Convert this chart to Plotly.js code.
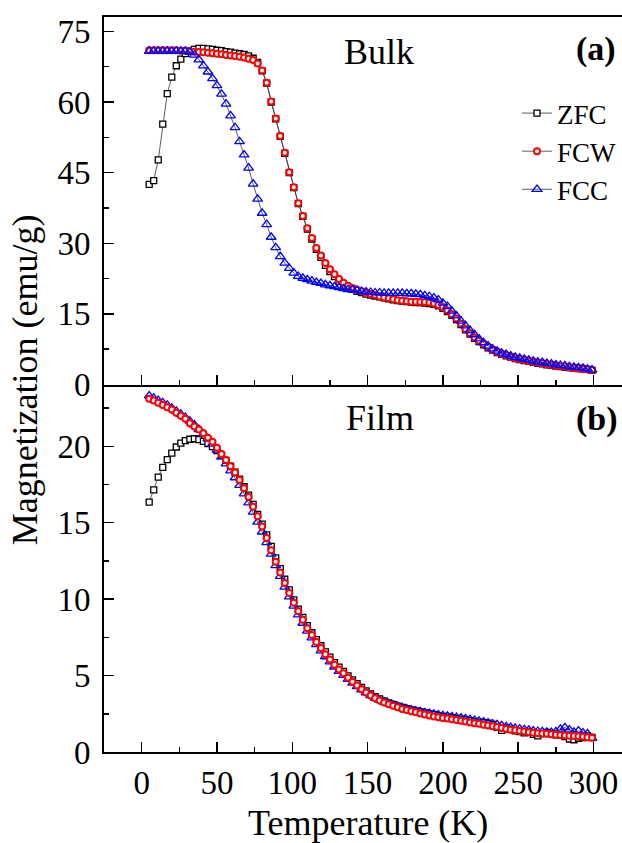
<!DOCTYPE html>
<html>
<head>
<meta charset="utf-8">
<script src="https://cdn.plot.ly/plotly-3.0.1.min.js"></script>
<style>
  html, body { margin: 0; padding: 0; background: #fff; }
  #chart { width: 622px; height: 843px; }
</style>
</head>
<body>
<div id="chart"></div>
<script>
// Temperature grid (K)
const temperature = [5,8,11,14,17,20,23,26,29,32, 35,38,41,44,47,50,53,56,59,62, 65,68,71,74,77,80,83,86,89,92,
  95,98,101,104,107,110,113,116,119,122, 125,128,131,134,137,140,143,146,149,152, 155,158,161,164,167,170,173,176,179,182,
  185,188,191,194,197,200,203,206,209,212, 215,218,221,224,227,230,233,236,239,242, 245,248,251,254,257,260,263,266,269,272,
  275,278,281,284,287,290,293,296,299];

// (a) Bulk, magnetization (emu/g)
const zfcBulk = [42.5,43.3,47.7,55.3,61.8,65.3,67.7,69.1,70.3,70.8,
  71.2,71.4,71.4,71.3,71.2,71.0,70.9,70.7,70.6,70.4,
  70.25,70.1,69.8,69.3,68.4,66.6,64.0,60.0,56.4,52.7,
  49.1,45.0,41.8,38.4,35.7,33.0,30.9,28.7,27.0,25.3,
  24.0,22.9,21.9,21.1,20.6,20.2,19.8,19.5,19.2,19.0,
  18.8,18.6,18.4,18.2,18.0,17.8,17.7,17.6,17.5,17.4,
  17.4,17.3,17.2,17.0,16.7,16.2,15.5,14.7,13.8,12.7,
  11.6,10.7,9.8,9.1,8.4,7.8,7.3,6.8,6.4,6.1,
  5.8,5.5,5.3,5.1,4.9,4.7,4.5,4.4,4.2,4.1,
  3.9,3.8,3.7,3.6,3.5,3.4,3.3,3.2,3.0];
const fcwBulk = [71.0,71.0,71.0,71.0,71.0,71.0,71.0,70.9,70.9,70.8,
  70.7,70.6,70.55,70.45,70.35,70.25,70.15,70.0,69.9,69.75,
  69.6,69.45,69.2,68.9,68.2,66.7,64.1,60.1,56.5,52.8,
  49.2,45.1,41.9,38.5,35.8,33.2,31.1,29.0,27.4,25.8,
  24.5,23.4,22.4,21.6,21.0,20.5,20.1,19.8,19.5,19.2,
  19.0,18.7,18.5,18.3,18.1,17.9,17.8,17.7,17.6,17.6,
  17.5,17.5,17.4,17.2,16.9,16.4,15.7,14.9,14.0,12.9,
  11.8,10.9,10.0,9.3,8.6,8.0,7.4,6.9,6.5,6.2,
  5.9,5.6,5.4,5.2,5.0,4.8,4.6,4.5,4.3,4.2,
  4.0,3.9,3.8,3.6,3.5,3.4,3.3,3.2,3.1];
const fccBulk = [70.8,70.8,70.8,70.8,70.8,70.8,70.8,70.8,70.8,70.6,
  70.0,69.0,67.7,66.4,65.0,63.5,61.7,59.6,57.1,54.6,
  51.6,48.8,46.0,42.6,39.4,36.4,34.0,31.3,29.1,27.2,
  25.8,24.7,23.7,23.0,22.6,22.3,22.0,21.7,21.5,21.2,
  21.0,20.8,20.6,20.4,20.2,20.1,20.0,19.8,19.7,19.6,
  19.5,19.5,19.4,19.4,19.4,19.4,19.4,19.3,19.3,19.2,
  19.1,18.9,18.7,18.4,18.0,17.3,16.6,15.6,14.6,13.5,
  12.5,11.5,10.6,9.7,8.9,8.2,7.6,7.1,6.7,6.4,
  6.1,5.8,5.6,5.4,5.2,5.0,4.8,4.7,4.5,4.4,
  4.2,4.1,4.0,3.8,3.7,3.6,3.5,3.3,3.1];

// (b) Film, magnetization (emu/g)
const zfcFilm = [16.35,17.15,17.98,18.62,19.12,19.55,19.95,20.2,20.37,20.46,
  20.49,20.44,20.32,20.18,19.98,19.72,19.42,19.08,18.7,18.3,
  17.85,17.35,16.8,16.2,15.55,14.9,14.2,13.45,12.7,12.0,
  11.3,10.6,9.95,9.35,8.8,8.27,7.8,7.35,6.95,6.55,
  6.2,5.85,5.55,5.27,4.98,4.72,4.47,4.22,4.0,3.8,
  3.62,3.47,3.34,3.22,3.11,3.0,2.91,2.83,2.76,2.69,
  2.62,2.56,2.5,2.44,2.38,2.33,2.28,2.24,2.2,2.15,
  2.1,2.05,2.0,1.96,1.92,1.88,1.8,1.62,1.42,1.58,
  1.5,1.38,1.33,1.25,1.3,1.15,1.05,1.2,1.28,1.2,
  1.12,1.1,1.0,0.85,0.8,0.9,0.95,1.05,0.95];
const fcwFilm = [23.1,23.0,22.85,22.7,22.55,22.4,22.2,22.0,21.8,21.5,
  21.3,21.1,20.85,20.55,20.3,19.9,19.5,19.1,18.7,18.28,
  17.8,17.25,16.68,16.05,15.42,14.75,14.0,13.2,12.45,11.75,
  11.05,10.4,9.77,9.2,8.65,8.1,7.65,7.2,6.8,6.4,
  6.05,5.7,5.4,5.15,4.85,4.6,4.35,4.1,3.9,3.7,
  3.52,3.37,3.24,3.12,3.02,2.92,2.82,2.74,2.67,2.6,
  2.52,2.45,2.39,2.33,2.28,2.23,2.19,2.14,2.09,2.04,
  1.99,1.93,1.88,1.84,1.79,1.74,1.69,1.63,1.57,1.51,
  1.46,1.42,1.38,1.34,1.29,1.26,1.23,1.21,1.19,1.16,
  1.13,1.11,1.08,1.06,1.05,1.03,1.0,0.97,0.94];
const fccFilm = [23.3,23.15,23.0,22.85,22.7,22.5,22.3,22.1,21.9,21.65,
  21.4,21.1,20.8,20.5,20.15,19.75,19.3,18.85,18.4,17.95,
  17.45,16.9,16.3,15.7,15.05,14.4,13.7,12.95,12.2,11.5,
  10.8,10.15,9.55,8.98,8.43,7.92,7.47,7.03,6.63,6.24,
  5.9,5.57,5.28,5.02,4.76,4.52,4.29,4.07,3.87,3.69,
  3.53,3.4,3.28,3.17,3.07,2.98,2.9,2.83,2.76,2.7,
  2.64,2.58,2.53,2.48,2.43,2.39,2.35,2.31,2.27,2.23,
  2.18,2.13,2.08,2.03,1.97,1.91,1.85,1.79,1.73,1.67,
  1.61,1.56,1.51,1.47,1.43,1.39,1.36,1.33,1.31,1.29,
  1.33,1.5,1.6,1.45,1.3,1.38,1.25,1.2,0.9];

const seriesNames = ['ZFC', 'FCW', 'FCC'];
const xTickVals = [0, 50, 100, 150, 200, 250, 300];

const FONT = '"Liberation Serif", "Times New Roman", Times, serif';
const lineStyle = {color: '#333', width: 0.8};
const mk = {
  ZFC: {symbol: 'square', size: 6, color: 'white', line: {color: 'black', width: 1.3}},
  FCW: {symbol: 'circle', size: 6, color: 'white', line: {color: 'red', width: 2}},
  FCC: {symbol: 'triangle-up-open', size: 8.5, color: 'blue', line: {color: 'blue', width: 1.3}}
};

function tr(name, y, xa, ya, show) {
  return {x: temperature, y: y, name: name, type: 'scatter', mode: 'lines+markers',
    line: lineStyle, marker: mk[name], xaxis: xa, yaxis: ya, showlegend: show, cliponaxis: true};
}

const data = [
  tr('ZFC', zfcBulk, 'x2', 'y2', true),
  tr('FCW', fcwBulk, 'x2', 'y2', true),
  tr('FCC', fccBulk, 'x2', 'y2', true),
  tr('ZFC', zfcFilm, 'x', 'y', false),
  tr('FCC', fccFilm, 'x', 'y', false),
  tr('FCW', fcwFilm, 'x', 'y', false)
];

const axBase = {
  showline: true, linecolor: 'black', linewidth: 2, showgrid: false, zeroline: false,
  ticks: 'inside', ticklen: 10, tickwidth: 1.5, tickcolor: 'black',
  tickfont: {family: FONT, size: 33, color: 'black'}
};

const layout = {
  width: 622, height: 843,
  margin: {l: 104, r: 0, t: 17, b: 91, pad: 0},
  paper_bgcolor: 'white', plot_bgcolor: 'white',
  font: {family: FONT, color: 'black'},
  xaxis: Object.assign({}, axBase, {anchor: 'y', range: [-25, 318.9], tickvals: xTickVals,
    minor: {dtick: 25, tick0: 0, ticks: 'inside', ticklen: 5, tickwidth: 1.5, tickcolor: 'black'}}),
  xaxis2: Object.assign({}, axBase, {anchor: 'y2', matches: 'x', range: [-25, 318.9], tickvals: xTickVals,
    showticklabels: false, mirror: true,
    minor: {dtick: 25, tick0: 0, ticks: 'inside', ticklen: 5, tickwidth: 1.5, tickcolor: 'black'}}),
  yaxis: Object.assign({}, axBase, {domain: [0, 0.5], range: [0, 24.04], dtick: 5, tick0: 0, ticklabelstandoff: 5,
    minor: {dtick: 2.5, tick0: 0, ticks: 'inside', ticklen: 5, tickwidth: 1.5, tickcolor: 'black'}}),
  yaxis2: Object.assign({}, axBase, {domain: [0.5, 1], range: [0, 78.06], dtick: 15, tick0: 0, ticklabelstandoff: 5,
    minor: {dtick: 7.5, tick0: 0, ticks: 'inside', ticklen: 5, tickwidth: 1.5, tickcolor: 'black'}}),
  legend: {x: 0.798, y: 0.902, xanchor: 'left', yanchor: 'top', bgcolor: 'rgba(0,0,0,0)',
    font: {family: FONT, size: 27, color: 'black'}, tracegroupgap: 0, itemsizing: 'trace'},
  annotations: [
    {text: 'Bulk', xref: 'paper', yref: 'paper', x: 0.531, y: 0.953, showarrow: false,
      font: {family: FONT, size: 36}, xanchor: 'center', yanchor: 'middle'},
    {text: '<b>(a)</b>', xref: 'paper', yref: 'paper', x: 0.95, y: 0.957, showarrow: false,
      font: {family: FONT, size: 34}, xanchor: 'center', yanchor: 'middle'},
    {text: 'Film', xref: 'paper', yref: 'paper', x: 0.533, y: 0.454, showarrow: false,
      font: {family: FONT, size: 36}, xanchor: 'center', yanchor: 'middle'},
    {text: '<b>(b)</b>', xref: 'paper', yref: 'paper', x: 0.952, y: 0.453, showarrow: false,
      font: {family: FONT, size: 34}, xanchor: 'center', yanchor: 'middle'},
    {text: 'Temperature (K)', xref: 'paper', yref: 'paper', x: 0.51, y: -0.096, showarrow: false,
      font: {family: FONT, size: 36}, xanchor: 'center', yanchor: 'middle'},
    {text: 'Magnetization (emu/g)', xref: 'paper', yref: 'paper', x: -0.152, y: 0.506, showarrow: false,
      textangle: -90, font: {family: FONT, size: 36}, xanchor: 'center', yanchor: 'middle'}
  ]
};

Plotly.newPlot('chart', data, layout, {displayModeBar: false, staticPlot: true});
</script>
</body>
</html>
